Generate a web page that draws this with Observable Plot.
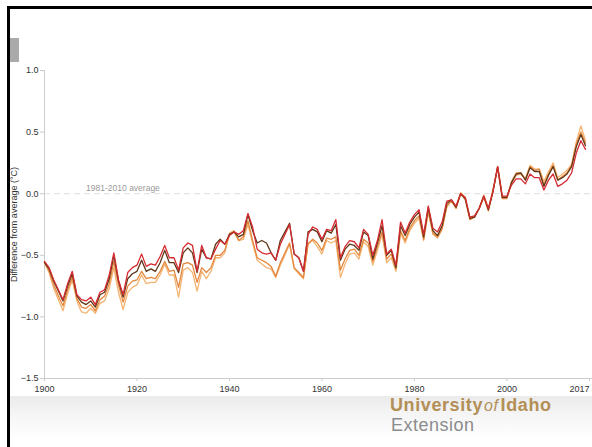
<!DOCTYPE html>
<html>
<head>
<meta charset="utf-8">
<script src="https://cdn.jsdelivr.net/npm/d3@7"></script>
<script src="https://cdn.jsdelivr.net/npm/@observablehq/plot@0.6"></script>
<style>
  html, body { margin: 0; padding: 0; background: #fff; width: 592px; height: 447px; overflow: hidden; }
  #wrap { position: relative; width: 592px; height: 447px; overflow: hidden; font-family: "Liberation Sans", Arial, sans-serif; }
  #chart { position: absolute; left: 0; top: 0; width: 610px; height: 400px; }
  #chart svg { max-width: none !important; width: 610px; height: 400px; }
  #band { position: absolute; left: 10px; top: 396px; width: 582px; height: 51px;
          background: linear-gradient(to bottom, #ebebeb 0%, #f6f6f6 40%, #ffffff 85%); }
  #logo { position: absolute; left: 0; top: 384px; width: 592px; height: 63px; z-index: 3; }
  #topline { position: absolute; left: 7px; top: 6px; width: 600px; height: 3px; background: #000; z-index: 5; }
  #leftline { position: absolute; left: 7px; top: 6px; width: 3px; height: 450px; background: #000; z-index: 5; }
  #tab { position: absolute; left: 10px; top: 38px; width: 9px; height: 24px; background: #aaaaaa; z-index: 4; }
</style>
</head>
<body>
<div id="wrap">
  <div id="band"></div>
  <div id="chart"></div>
  <svg id="logo" width="592" height="63">
    <text x="390" y="27" font-family="Liberation Sans, Arial, sans-serif" font-size="18" font-weight="bold" letter-spacing="0.6" fill="#b38f57">University<tspan font-weight="normal" font-style="italic" font-size="16" dx="1">of</tspan><tspan dx="2">Idaho</tspan></text>
    <text x="391" y="47" font-family="Liberation Sans, Arial, sans-serif" font-size="18" letter-spacing="0.5" fill="#8c8c8c">Extension</text>
  </svg>
  <div id="tab"></div>
  <div id="topline"></div>
  <div id="leftline"></div>
</div>
<script>
// ---- Data (anomaly vs 1981-2010 average, °C) ----
const firstYear = 1900;
const lastYear = 2017;

const darkBrownSeries = [
  -0.56,-0.61,-0.71,-0.79,-0.87,-0.75,-0.65,-0.83,-0.88,-0.90,
  -0.87,-0.92,-0.82,-0.80,-0.69,-0.50,-0.71,-0.84,-0.69,-0.65,
  -0.63,-0.54,-0.63,-0.61,-0.63,-0.56,-0.46,-0.56,-0.56,-0.64,
  -0.48,-0.44,-0.48,-0.64,-0.45,-0.52,-0.53,-0.41,-0.37,-0.41,
  -0.33,-0.31,-0.35,-0.33,-0.17,-0.30,-0.40,-0.38,-0.40,-0.48,
  -0.54,-0.38,-0.31,-0.24,-0.49,-0.52,-0.63,-0.31,-0.29,-0.31,
  -0.39,-0.30,-0.32,-0.25,-0.54,-0.45,-0.41,-0.42,-0.46,-0.31,
  -0.34,-0.53,-0.40,-0.26,-0.50,-0.46,-0.60,-0.26,-0.34,-0.25,
  -0.19,-0.15,-0.35,-0.11,-0.30,-0.34,-0.26,-0.08,-0.05,-0.11,
   0.00,-0.04,-0.20,-0.19,-0.12,-0.02,-0.13, 0.02, 0.22,-0.03,
  -0.03, 0.09, 0.16, 0.17, 0.11, 0.21, 0.18, 0.18, 0.06, 0.15,
   0.22, 0.11, 0.13, 0.16, 0.22, 0.38, 0.48, 0.39
];
const redSeries = [
  -0.55,-0.60,-0.70,-0.78,-0.86,-0.73,-0.63,-0.82,-0.86,-0.87,
  -0.84,-0.90,-0.80,-0.78,-0.66,-0.48,-0.70,-0.82,-0.64,-0.60,
  -0.58,-0.49,-0.59,-0.57,-0.58,-0.51,-0.42,-0.52,-0.52,-0.62,
  -0.44,-0.40,-0.42,-0.63,-0.42,-0.52,-0.53,-0.45,-0.38,-0.41,
  -0.34,-0.31,-0.33,-0.30,-0.16,-0.27,-0.45,-0.48,-0.49,-0.48,
  -0.54,-0.41,-0.33,-0.25,-0.49,-0.52,-0.63,-0.33,-0.27,-0.29,
  -0.37,-0.29,-0.30,-0.21,-0.52,-0.43,-0.38,-0.39,-0.44,-0.29,
  -0.33,-0.50,-0.38,-0.21,-0.49,-0.45,-0.58,-0.23,-0.32,-0.23,
  -0.17,-0.13,-0.33,-0.10,-0.28,-0.31,-0.23,-0.06,-0.05,-0.10,
   0.00,-0.03,-0.19,-0.18,-0.12,-0.02,-0.12, 0.02, 0.22,-0.02,
  -0.02, 0.07, 0.12, 0.12, 0.08, 0.16, 0.13, 0.13, 0.03, 0.11,
   0.16, 0.06, 0.08, 0.11, 0.17, 0.33, 0.43, 0.36
];
const orangeSeries = [
  -0.56,-0.63,-0.74,-0.83,-0.91,-0.78,-0.68,-0.85,-0.92,-0.93,
  -0.90,-0.95,-0.86,-0.83,-0.73,-0.55,-0.74,-0.88,-0.75,-0.71,
  -0.70,-0.63,-0.69,-0.68,-0.69,-0.63,-0.55,-0.63,-0.62,-0.76,
  -0.57,-0.56,-0.58,-0.72,-0.60,-0.64,-0.60,-0.50,-0.50,-0.46,
  -0.33,-0.31,-0.38,-0.35,-0.22,-0.38,-0.52,-0.54,-0.56,-0.59,
  -0.67,-0.56,-0.48,-0.40,-0.60,-0.64,-0.68,-0.41,-0.37,-0.40,
  -0.46,-0.36,-0.37,-0.35,-0.62,-0.53,-0.46,-0.45,-0.50,-0.37,
  -0.40,-0.55,-0.43,-0.31,-0.53,-0.49,-0.61,-0.30,-0.38,-0.28,
  -0.22,-0.18,-0.37,-0.14,-0.32,-0.35,-0.28,-0.10,-0.06,-0.12,
   0.00,-0.05,-0.21,-0.19,-0.12,-0.03,-0.14, 0.02, 0.21,-0.04,
  -0.04, 0.09, 0.15, 0.16, 0.12, 0.22, 0.19, 0.20, 0.07, 0.16,
   0.23, 0.11, 0.14, 0.17, 0.23, 0.40, 0.50, 0.41
];
const lightOrangeSeries = [
  -0.56,-0.64,-0.77,-0.86,-0.95,-0.81,-0.70,-0.87,-0.96,-0.97,
  -0.93,-0.97,-0.89,-0.87,-0.77,-0.60,-0.80,-0.94,-0.80,-0.76,
  -0.74,-0.66,-0.73,-0.72,-0.72,-0.66,-0.57,-0.66,-0.66,-0.84,
  -0.62,-0.60,-0.64,-0.79,-0.63,-0.69,-0.63,-0.52,-0.52,-0.48,
  -0.32,-0.30,-0.38,-0.37,-0.25,-0.40,-0.54,-0.57,-0.60,-0.61,
  -0.68,-0.58,-0.50,-0.41,-0.61,-0.65,-0.69,-0.40,-0.38,-0.43,
  -0.49,-0.38,-0.40,-0.38,-0.68,-0.57,-0.49,-0.48,-0.53,-0.39,
  -0.43,-0.58,-0.46,-0.33,-0.56,-0.52,-0.63,-0.32,-0.40,-0.30,
  -0.24,-0.20,-0.38,-0.15,-0.33,-0.36,-0.29,-0.11,-0.05,-0.11,
   0.01,-0.03,-0.20,-0.18,-0.12,-0.01,-0.12, 0.04, 0.22,-0.02,
  -0.03, 0.10, 0.17, 0.17, 0.12, 0.23, 0.20, 0.20, 0.10, 0.18,
   0.25, 0.13, 0.16, 0.19, 0.24, 0.42, 0.55, 0.43
];

const xTicks = [1900, 1920, 1940, 1960, 1980, 2000];
const xLastTick = [2017];
const yTicks = [-1.5, -1.0, -0.5, 0.0, 0.5, 1.0];
const yLabel = "Difference from average (°C)";
const baselineLabel = "1981-2010 average";

const seriesList = [
  {name: "light orange", values: lightOrangeSeries, color: "#f4b473"},
  {name: "orange", values: orangeSeries, color: "#e4873d"},
  {name: "dark brown", values: darkBrownSeries, color: "#5e3618"},
  {name: "red", values: redSeries, color: "#d52b31"}
];

const years = d3.range(firstYear, lastYear + 1);
const rows = seriesList.flatMap(s => years.map((yr, i) => ({year: yr, value: s.values[i], series: s.name})));

const chart = Plot.plot({
  width: 610,
  height: 400,
  marginLeft: 44,
  marginRight: 25,
  marginTop: 70,
  marginBottom: 22,
  style: {fontFamily: "Liberation Sans, Arial, sans-serif", fontSize: "9px", background: "transparent", overflow: "visible", maxWidth: "none"},
  x: {domain: [firstYear, lastYear]},
  y: {domain: [-1.5, 1.0]},
  color: {domain: seriesList.map(s => s.name), range: seriesList.map(s => s.color)},
  marks: [
    Plot.ruleY([0], {x1: firstYear, x2: lastYear + 3, stroke: "#dedede", strokeDasharray: "6,4", strokeWidth: 1}),
    Plot.text([baselineLabel], {x: 1909, y: 0, dy: -5, text: d => d, textAnchor: "start", fill: "#9a9a9a", fontSize: 8.5}),
    Plot.ruleY([-1.5], {x1: firstYear, x2: lastYear + 3, stroke: "#cccccc"}),
    Plot.ruleX([firstYear], {stroke: "#cccccc"}),
    Plot.axisX({ticks: xTicks, tickFormat: d => String(d), tickSize: 3, tickPadding: 4, stroke: "#cccccc", fill: "#333", label: null}),
    Plot.axisX({ticks: xLastTick, tickFormat: d => String(d), tickSize: 3, tickPadding: 4, stroke: "#cccccc", fill: "#333", label: null, textAnchor: "end", dx: 4}),
    Plot.axisY({ticks: yTicks, tickFormat: d3.format(".1f"), tickSize: 4, tickPadding: 2, stroke: "#cccccc", fill: "#333",
                label: yLabel, labelAnchor: "center", labelOffset: 34, labelArrow: "none"}),
    Plot.line(rows, {x: "year", y: "value", z: "series", stroke: "series", strokeWidth: 1.3})
  ]
});
document.getElementById("chart").appendChild(chart);
</script>
</body>
</html>
